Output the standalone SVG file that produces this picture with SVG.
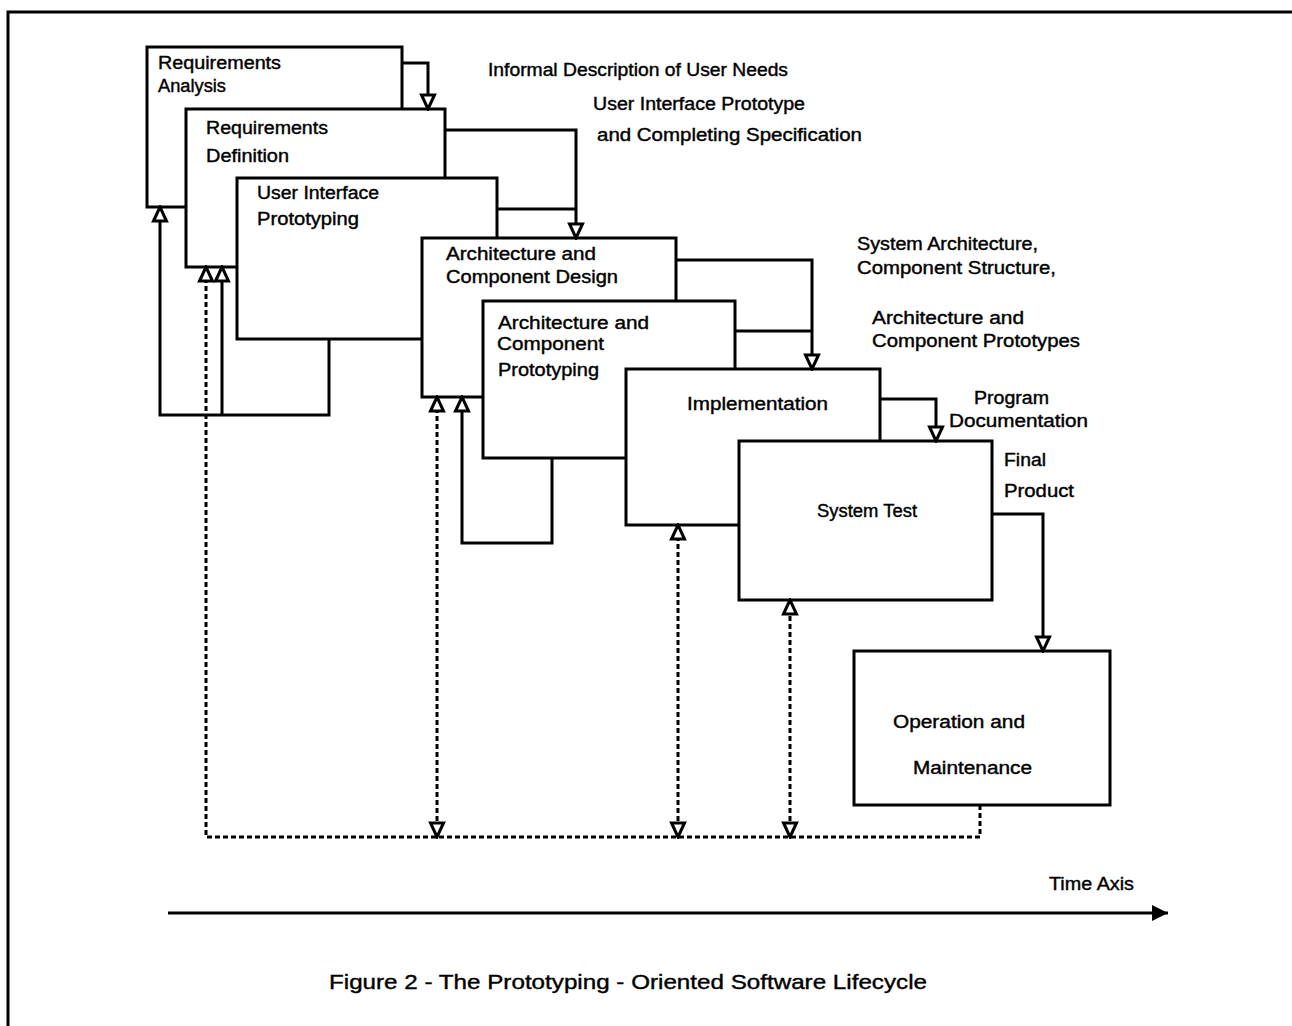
<svg xmlns="http://www.w3.org/2000/svg" width="1292" height="1026" viewBox="0 0 1292 1026">
<style>
.box{fill:#fff;stroke:#000;stroke-width:3}
.t{font-family:"Liberation Sans",Arial,sans-serif;font-size:18px;fill:#000;stroke:#000;stroke-width:0.4}
.c{fill:none;stroke:#000;stroke-width:3}
.d{fill:none;stroke:#000;stroke-width:3;stroke-dasharray:5,3}
</style>
<defs>
<marker id="ah" markerUnits="userSpaceOnUse" markerWidth="18" markerHeight="18" viewBox="0 0 18 18" refX="16" refY="9" orient="auto-start-reverse">
<path d="M2,2.5 L16,9 L2,15.5 Z" fill="#fff" stroke="#000" stroke-width="3"/>
</marker>
<marker id="fa" markerUnits="userSpaceOnUse" markerWidth="20" markerHeight="20" viewBox="0 0 20 20" refX="18" refY="10" orient="auto">
<path d="M2,2 L18,10 L2,18 Z" fill="#000"/>
</marker>
</defs>
<rect width="1292" height="1026" fill="#fff"/>
<path d="M8,1026 L8,12 L1292,12" fill="none" stroke="#000" stroke-width="3"/>

<g id="nodes">
<g id="n1"><rect class="box" x="147" y="47" width="255" height="160"/>
<text class="t" x="158" y="69" textLength="123" lengthAdjust="spacingAndGlyphs">Requirements</text>
<text class="t" x="158" y="92" textLength="68" lengthAdjust="spacingAndGlyphs">Analysis</text></g>
<g id="n2"><rect class="box" x="186" y="109" width="259" height="158"/>
<text class="t" x="206" y="134" textLength="122" lengthAdjust="spacingAndGlyphs">Requirements</text>
<text class="t" x="206" y="162" textLength="83" lengthAdjust="spacingAndGlyphs">Definition</text></g>
<g id="n3"><rect class="box" x="237" y="178" width="260" height="161"/>
<text class="t" x="257" y="199" textLength="122" lengthAdjust="spacingAndGlyphs">User Interface</text>
<text class="t" x="257" y="225" textLength="102" lengthAdjust="spacingAndGlyphs">Prototyping</text></g>
<g id="n4"><rect class="box" x="422" y="238" width="254" height="159"/>
<text class="t" x="446" y="260" textLength="150" lengthAdjust="spacingAndGlyphs">Architecture and</text>
<text class="t" x="446" y="283" textLength="172" lengthAdjust="spacingAndGlyphs">Component Design</text></g>
<g id="n5"><rect class="box" x="483" y="301" width="252" height="157"/>
<text class="t" x="498" y="329" textLength="151" lengthAdjust="spacingAndGlyphs">Architecture and</text>
<text class="t" x="497" y="350" textLength="107" lengthAdjust="spacingAndGlyphs">Component</text>
<text class="t" x="498" y="376" textLength="101" lengthAdjust="spacingAndGlyphs">Prototyping</text></g>
<g id="n6"><rect class="box" x="626" y="369" width="254" height="156"/>
<text class="t" x="687" y="410" textLength="141" lengthAdjust="spacingAndGlyphs">Implementation</text></g>
<g id="n7"><rect class="box" x="739" y="441" width="253" height="159"/>
<text class="t" x="817" y="517" textLength="100" lengthAdjust="spacingAndGlyphs">System Test</text></g>
<g id="n8"><rect class="box" x="854" y="651" width="256" height="154"/>
<text class="t" x="893" y="728" textLength="132" lengthAdjust="spacingAndGlyphs">Operation and</text>
<text class="t" x="913" y="774" textLength="119" lengthAdjust="spacingAndGlyphs">Maintenance</text></g>
</g>

<g id="connectors">
<path class="c" d="M402,63 L428,63 L428,109" marker-end="url(#ah)"/>
<path class="c" d="M445,130 L576,130 L576,238" marker-end="url(#ah)"/>
<path class="c" d="M497,209 L576,209"/>
<path class="c" d="M676,260 L812,260 L812,369" marker-end="url(#ah)"/>
<path class="c" d="M735,331 L812,331"/>
<path class="c" d="M880,399 L936,399 L936,441" marker-end="url(#ah)"/>
<path class="c" d="M992,514 L1043,514 L1043,651" marker-end="url(#ah)"/>
<path class="c" d="M329,339 L329,415 L160,415 L160,207" marker-end="url(#ah)"/>
<path class="c" d="M222,415 L222,267" marker-end="url(#ah)"/>
<path class="c" d="M552,458 L552,543 L462,543 L462,397" marker-end="url(#ah)"/>
<path class="d" d="M980,805 L980,837 L206,837 L206,267" marker-end="url(#ah)"/>
<path class="d" d="M437,837 L437,397" marker-start="url(#ah)" marker-end="url(#ah)"/>
<path class="d" d="M678,837 L678,525" marker-start="url(#ah)" marker-end="url(#ah)"/>
<path class="d" d="M790,837 L790,600" marker-start="url(#ah)" marker-end="url(#ah)"/>
<path d="M168,913 L1168,913" fill="none" stroke="#000" stroke-width="3" marker-end="url(#fa)"/>
</g>

<g id="labels">
<text class="t" x="488" y="76" textLength="300" lengthAdjust="spacingAndGlyphs">Informal Description of User Needs</text>
<text class="t" x="593" y="110" textLength="212" lengthAdjust="spacingAndGlyphs">User Interface Prototype</text>
<text class="t" x="597" y="141" textLength="265" lengthAdjust="spacingAndGlyphs">and Completing Specification</text>
<text class="t" x="857" y="250" textLength="181" lengthAdjust="spacingAndGlyphs">System Architecture,</text>
<text class="t" x="857" y="274" textLength="199" lengthAdjust="spacingAndGlyphs">Component Structure,</text>
<text class="t" x="872" y="324" textLength="152" lengthAdjust="spacingAndGlyphs">Architecture and</text>
<text class="t" x="872" y="347" textLength="208" lengthAdjust="spacingAndGlyphs">Component Prototypes</text>
<text class="t" x="974" y="404" textLength="75" lengthAdjust="spacingAndGlyphs">Program</text>
<text class="t" x="949" y="427" textLength="139" lengthAdjust="spacingAndGlyphs">Documentation</text>
<text class="t" x="1004" y="466" textLength="42" lengthAdjust="spacingAndGlyphs">Final</text>
<text class="t" x="1004" y="497" textLength="70" lengthAdjust="spacingAndGlyphs">Product</text>
<text class="t" x="1049" y="890" textLength="85" lengthAdjust="spacingAndGlyphs">Time  Axis</text>
<text class="t" x="329" y="989" style="font-size:21px" textLength="598" lengthAdjust="spacingAndGlyphs">Figure 2 - The Prototyping - Oriented Software Lifecycle</text>
</g>
</svg>
